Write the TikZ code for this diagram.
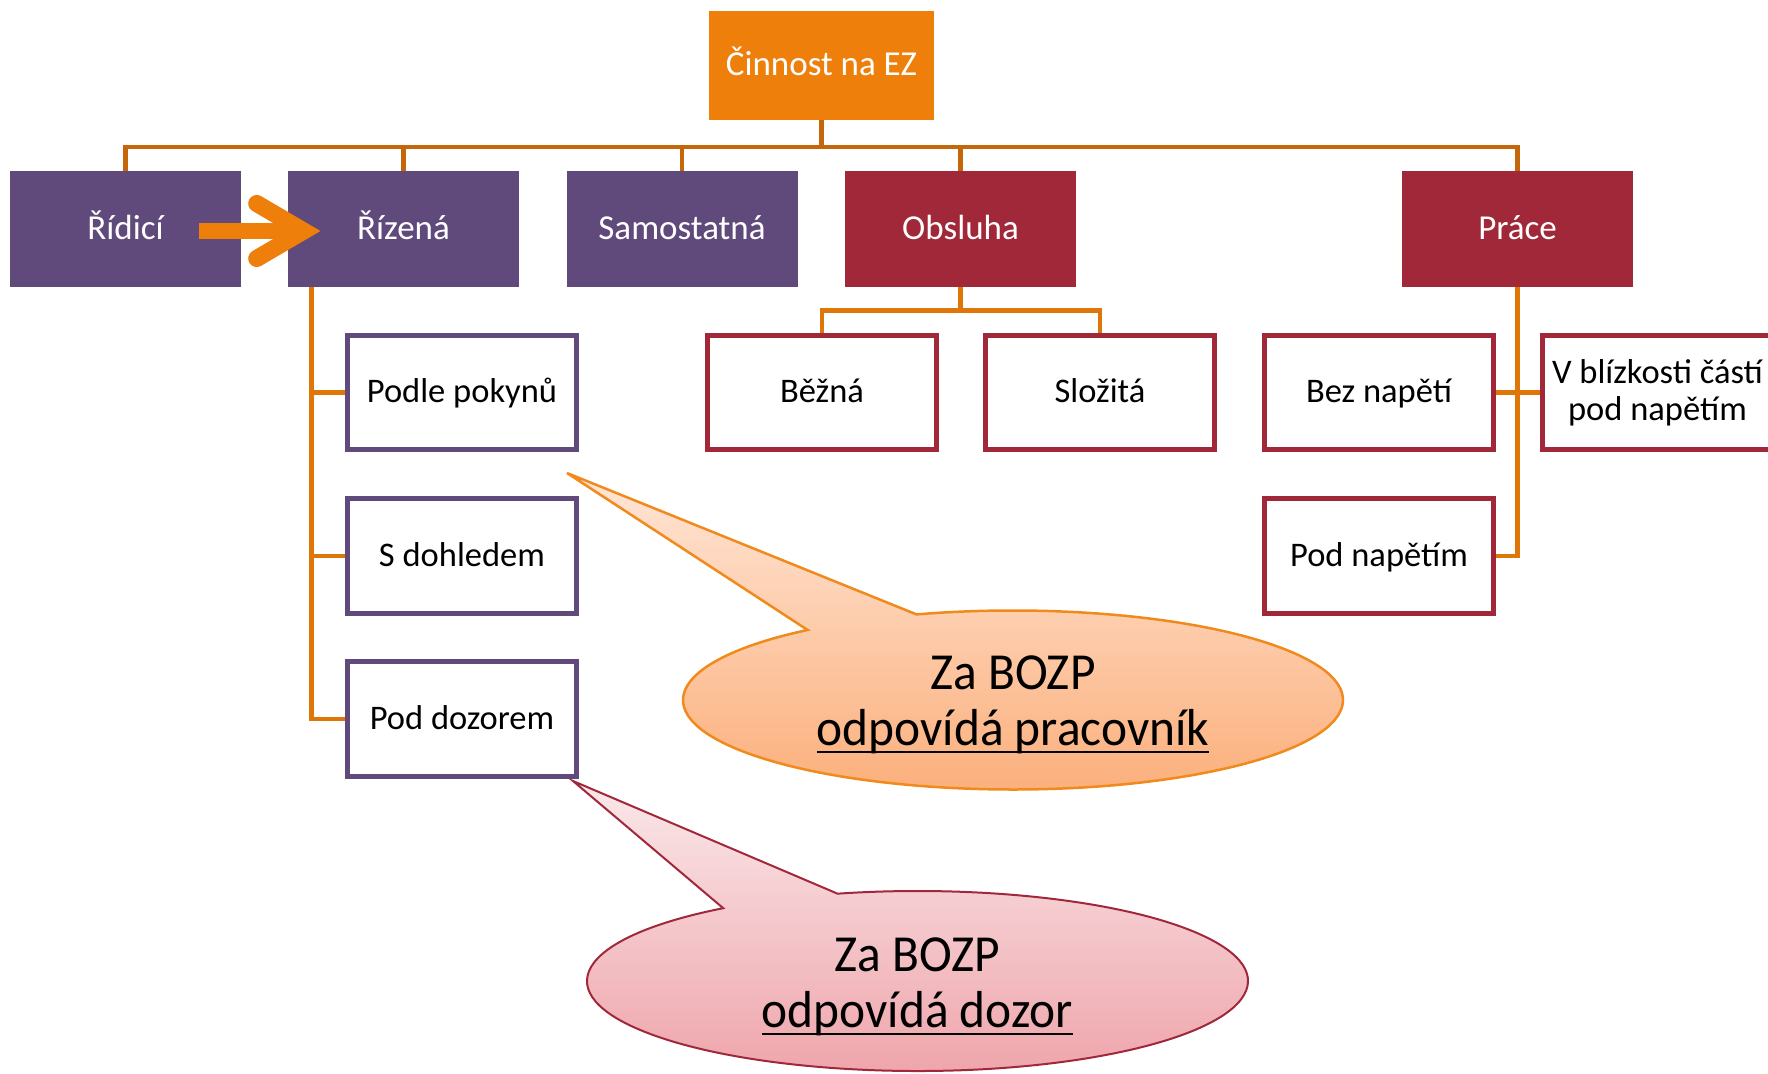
\documentclass[tikz,border=0pt]{standalone}
\usepackage{fontspec}
\setmainfont{Carlito}
\newfontfamily\calloutfont[FakeStretch=0.95]{Carlito}
\usetikzlibrary{calc}
\definecolor{orgbox}{HTML}{EF7F0B}
\definecolor{purp}{HTML}{604A7B}
\definecolor{dred}{HTML}{A12838}
\definecolor{linetop}{HTML}{C4660A}
\definecolor{linelow}{HTML}{DE7708}
\definecolor{cOneTop}{HTML}{FFE6D7}
\definecolor{cOneBot}{HTML}{FBAE79}
\definecolor{cOneLine}{HTML}{F08A1C}
\definecolor{cTwoTop}{HTML}{FAE8EA}
\definecolor{cTwoBot}{HTML}{EEA3A9}
\definecolor{cTwoLine}{HTML}{A0283A}
\newcommand{\myul}[1]{\setbox0=\hbox{#1}\rlap{\rule[-8.4pt]{\wd0}{2.8pt}}\box0}
\begin{document}
\begin{tikzpicture}[x=1pt,y=-1pt,
  topbox/.style={fill=#1, text=white, minimum width=231pt, minimum height=116pt,
    inner sep=0pt, font=\fontsize{35}{42}\selectfont, text height=20pt, text depth=0pt},
  childb/.style={draw=#1, line width=4.8pt, fill=white, minimum width=229.5pt,
    minimum height=114.5pt, inner sep=0pt, font=\fontsize{34.5}{37}\selectfont},
  child/.style={childb=#1, text height=20.5pt, text depth=0pt},
  conntop/.style={draw=linetop, line width=4.8pt},
  connlow/.style={draw=linelow, line width=4.8pt},
  arrowc/.style={orgbox},
  calltext/.style={inner sep=0pt, font=\calloutfont\fontsize{52}{60}\selectfont, text=black},
]
\useasboundingbox (0,0) rectangle (1768,1073);

% top level
\node[topbox=orgbox, minimum width=225pt, minimum height=109pt] (cin) at (821.5,65.5) {Činnost na EZ};
\node[topbox=purp] (rid) at (125.5,229) {Řídicí};
\node[topbox=purp] (riz) at (403.5,229) {Řízená};
\node[topbox=purp] (sam) at (682,229) {Samostatná};
\node[topbox=dred] (obs) at (960.5,229) {Obsluha};
\node[topbox=dred] (pra) at (1517.5,229) {Práce};

% children
\node[child=purp] (pok) at (462,392.5) {Podle pokynů};
\node[child=purp] (sdo) at (462,556) {S dohledem};
\node[child=purp] (pdz) at (462,719) {Pod dozorem};
\node[child=dred] (bez) at (822,392.5) {Běžná};
\node[child=dred] (slo) at (1100,392.5) {Složitá};
\node[child=dred] (bnp) at (1379,392.5) {Bez napětí};
\node[child=dred] (pnp) at (1379,556) {Pod napětím};
\node[childb=dred, align=center] (vbl) at (1657.5,392.5) {V blízkosti částí\\pod napětím};

% top connectors
\coordinate (hub) at (821.5,147);
\draw[conntop] (cin.south) -- (hub);
\foreach \n in {rid,riz,sam,obs,pra} \draw[conntop] (hub) -| (\n.north);

% lower connectors
\foreach \n in {pok,sdo,pdz} \draw[connlow] ($(riz.south west)+(24,0)$) |- (\n.west);
\foreach \n in {bez,slo} \draw[connlow] (obs.south) -- ++(0,23) -| (\n.north);
\foreach \n in {bnp,pnp} \draw[connlow] (pra.south) |- (\n.east);
\draw[connlow] (pra.south) |- (vbl.west);

% arrow Řídicí -> Řízená
\begin{scope}[xshift=2.5pt,yshift=-3.5pt]
  \fill[black,opacity=0.12] ($(rid.east)+(-42,-6.3)$) rectangle ($(rid.east)+(59,10.3)$);
  \draw[black,opacity=0.12, line width=17pt, line cap=round, line join=miter]
    ($(rid.east)+(15.5,-25.5)$) -- ($(rid.east)+(62.5,2)$) -- ($(rid.east)+(15.5,29.5)$);
\end{scope}
\fill[arrowc] ($(rid.east)+(-42,-6.3)$) rectangle ($(rid.east)+(59,10.3)$);
\draw[arrowc, line width=17pt, line cap=round, line join=miter]
  ($(rid.east)+(15.5,-25.5)$) -- ($(rid.east)+(62.5,2)$) -- ($(rid.east)+(15.5,29.5)$);

% callout 1
\coordinate (e1) at (1013,700);
\coordinate (t1) at (567,473);
\foreach \s in {2,4,6}
  \fill[black,opacity=0.045,xshift=1pt,yshift=-\s pt] ($(e1)+(253:330 and 89.5)$) -- (t1) -- ($(e1)+(231.5:330 and 89.5)$)
    arc[start angle=231.5, end angle=-107, x radius=330, y radius=89.5] -- cycle;
\draw[draw=cOneLine, line width=2.5pt, top color=cOneTop, bottom color=cOneBot]
  ($(e1)+(253:330 and 89.5)$) -- (t1) -- ($(e1)+(231.5:330 and 89.5)$)
  arc[start angle=231.5, end angle=-107, x radius=330, y radius=89.5] -- cycle;
\node[calltext, anchor=base] (c1a) at ($(e1)+(0,-11)$) {Za BOZP};
\node[calltext, anchor=base] (c1b) at ($(e1)+(0,45)$) {\myul{odpovídá pracovník}};

% callout 2
\coordinate (e2) at (917.5,981);
\coordinate (t2) at (573,781);
\foreach \s in {2,4}
  \fill[black,opacity=0.045,xshift=1pt,yshift=-\s pt] ($(e2)+(256:330.5 and 90)$) -- (t2) -- ($(e2)+(234:330.5 and 90)$)
    arc[start angle=234, end angle=-104, x radius=330.5, y radius=90] -- cycle;
\draw[draw=cTwoLine, line width=2pt, top color=cTwoTop, bottom color=cTwoBot]
  ($(e2)+(256:330.5 and 90)$) -- (t2) -- ($(e2)+(234:330.5 and 90)$)
  arc[start angle=234, end angle=-104, x radius=330.5, y radius=90] -- cycle;
\node[calltext, anchor=base] (c2a) at ($(e2)+(0,-10)$) {Za BOZP};
\node[calltext, anchor=base] (c2b) at ($(e2)+(0,46)$) {\myul{odpovídá dozor}};
\end{tikzpicture}
\end{document}
